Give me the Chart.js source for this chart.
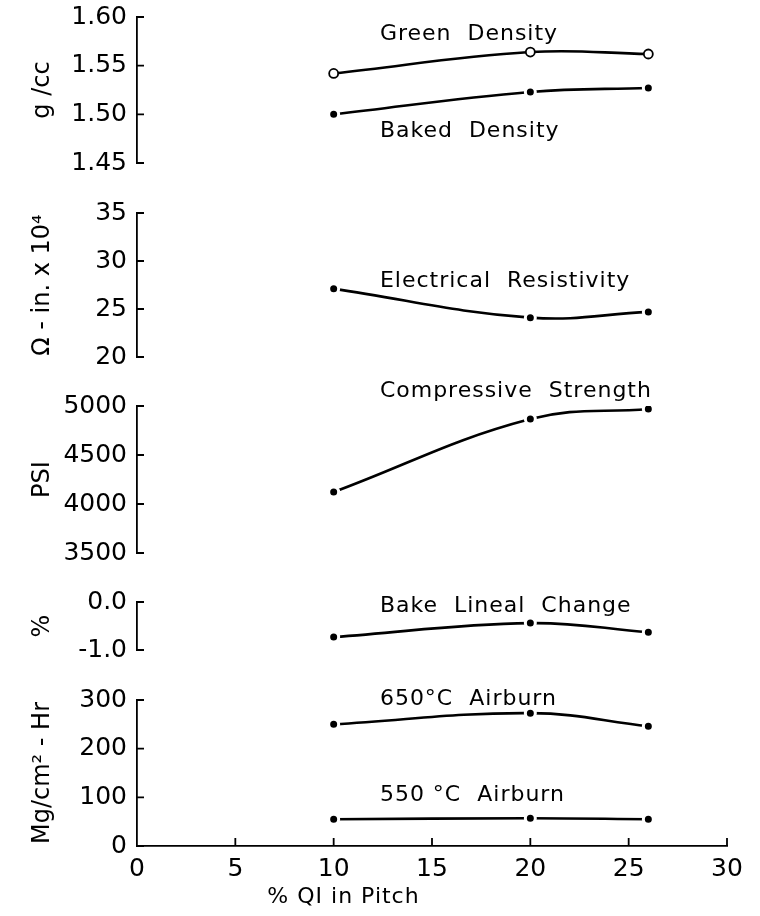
<!DOCTYPE html>
<html>
<head>
<meta charset="utf-8">
<script src="https://cdn.jsdelivr.net/npm/chart.js@4.4.1/dist/chart.umd.min.js"></script>
<style>
  html, body { margin: 0; padding: 0; background: #fff; }
  #wrap { width: 760px; height: 916px; }
</style>
</head>
<body>
<div id="wrap"><canvas id="qiChart" width="760" height="916"></canvas></div>
<script>
const qi = [10, 20, 26];

const greenDensity = [1.542, 1.564, 1.562];
const bakedDensity = [1.500, 1.523, 1.527];
const resistivity = [27.1, 24.1, 24.7];
const compressive = [4122, 4867, 4970];
const linealChange = [-0.73, -0.44, -0.63];
const airburn650 = [250, 273, 246];
const airburn550 = [55, 57, 55];

const xTicks = [0, 5, 10, 15, 20, 25, 30];
const densityTicks = [1.45, 1.5, 1.55, 1.6];
const resistTicks = [20, 25, 30, 35];
const strengthTicks = [3500, 4000, 4500, 5000];
const linealTicks = [-1, 0];
const airburnTicks = [0, 100, 200, 300];

// curve captions, placed in data units of their own panel
const captionText = ["Green  Density", "Baked  Density", "Electrical  Resistivity",
  "Compressive  Strength", "Bake  Lineal  Change", "650°C  Airburn", "550 °C  Airburn"];
const captionAxis = ["yDen", "yDen", "yRes", "yStr", "yLin", "yAir", "yAir"];
const captionY = [1.576, 1.477, 27.3, 5092, -0.21, 290, 93];
const captionX = 12.35;

const FONT = "'DejaVu Sans', sans-serif";
const AXIS_W = 111;

const pts = (ys) => qi.map((x, i) => ({ x: x, y: ys[i] }));

function series(label, ys, axis, open) {
  return {
    label: label,
    data: pts(ys),
    yAxisID: axis,
    borderColor: "#000",
    borderWidth: 2.6,
    tension: 0.4,
    fill: false,
    pointRadius: open ? 4.5 : 5,
    pointBackgroundColor: open ? "#fff" : "#000",
    pointBorderColor: open ? "#000" : "#fff",
    pointBorderWidth: open ? 1.8 : 3,
  };
}

function fixBox(s) {
  s.width = AXIS_W;
  s.paddingTop = 0;
  s.paddingBottom = 0;
}

function panel(title, ticks, min, max, weight, order, dec) {
  return {
    type: "linear",
    position: "left",
    stack: "qi",
    stackWeight: weight,
    weight: order,
    min: min,
    max: max,
    afterBuildTicks: (s) => { s.ticks = ticks.map((v) => ({ value: v })); },
    afterFit: fixBox,
    ticks: {
      color: "#000",
      padding: 10,
      autoSkip: false,
      font: { family: FONT, size: 25 },
      callback: (v) => Number(v).toFixed(dec),
    },
    grid: { drawOnChartArea: false, drawTicks: false },
    border: { color: "#000", width: 1.8 },
    title: {
      display: true,
      text: title,
      color: "#000",
      font: { family: FONT, size: 24 },
      padding: { top: 2, bottom: 8 },
    },
  };
}

function gap(weight, order) {
  return {
    type: "linear",
    position: "left",
    stack: "qi",
    stackWeight: weight,
    weight: order,
    min: 0,
    max: 1,
    afterFit: fixBox,
    ticks: { display: false },
    grid: { display: false },
    border: { display: false },
  };
}

const panelIds = ["yDen", "yRes", "yStr", "yLin", "yAir"];

const inwardTicks = {
  id: "inwardTicks",
  afterDraw(chart) {
    const ctx = chart.ctx;
    const xs = chart.scales.x;
    ctx.save();
    ctx.strokeStyle = "#000";
    ctx.lineWidth = 1.8;
    ctx.beginPath();
    for (const id of panelIds) {
      const s = chart.scales[id];
      for (const t of s.ticks) {
        const y = s.getPixelForValue(t.value);
        ctx.moveTo(s.right, y);
        ctx.lineTo(s.right + 7, y);
      }
    }
    for (const t of xs.ticks) {
      if (t.value === 0) continue;
      const x = xs.getPixelForValue(t.value);
      ctx.moveTo(x, xs.top);
      ctx.lineTo(x, xs.top - 8);
    }
    ctx.stroke();

    ctx.fillStyle = "#000";
    ctx.font = "22px " + FONT;
    ctx.letterSpacing = "1px";
    ctx.textAlign = "left";
    ctx.textBaseline = "alphabetic";
    captionText.forEach((txt, i) => {
      const s = chart.scales[captionAxis[i]];
      ctx.fillText(txt, xs.getPixelForValue(captionX), s.getPixelForValue(captionY[i]));
    });

    ctx.textAlign = "center";
    ctx.fillText("% QI in Pitch", xs.getPixelForValue(10.5), xs.top + 57);
    ctx.restore();
  },
};

new Chart(document.getElementById("qiChart"), {
  type: "line",
  data: {
    datasets: [
      series("Green Density", greenDensity, "yDen", true),
      series("Baked Density", bakedDensity, "yDen", false),
      series("Electrical Resistivity", resistivity, "yRes", false),
      series("Compressive Strength", compressive, "yStr", false),
      series("Bake Lineal Change", linealChange, "yLin", false),
      series("650°C Airburn", airburn650, "yAir", false),
      series("550 °C Airburn", airburn550, "yAir", false),
    ],
  },
  options: {
    responsive: false,
    animation: false,
    layout: { padding: { top: 17, left: 26, right: 33, bottom: 24 } },
    plugins: { legend: { display: false }, tooltip: { enabled: false } },
    scales: {
      x: {
        type: "linear",
        min: 0,
        max: 30,
        afterBuildTicks: (s) => { s.ticks = xTicks.map((v) => ({ value: v })); },
        afterFit: (s) => { s.paddingLeft = 0; s.paddingRight = 0; },
        ticks: { color: "#000", padding: 8, autoSkip: false, maxRotation: 0, font: { family: FONT, size: 25 } },
        grid: { drawOnChartArea: false, drawTicks: false },
        border: { color: "#000", width: 1.8 },
      },
      yDen: panel("g /cc", densityTicks, 1.45, 1.6, 146, 9, 2),
      g1: gap(50, 8),
      yRes: panel("Ω - in. x 10⁴", resistTicks, 20, 35, 144, 7, 0),
      g2: gap(49, 6),
      yStr: panel("PSI", strengthTicks, 3500, 5000, 147, 5, 0),
      g3: gap(49, 4),
      yLin: panel("%", linealTicks, -1, 0, 48, 3, 1),
      g4: gap(50, 2),
      yAir: panel("Mg/cm² - Hr", airburnTicks, 0, 300, 146, 1, 0),
    },
  },
  plugins: [inwardTicks],
});
</script>
</body>
</html>
